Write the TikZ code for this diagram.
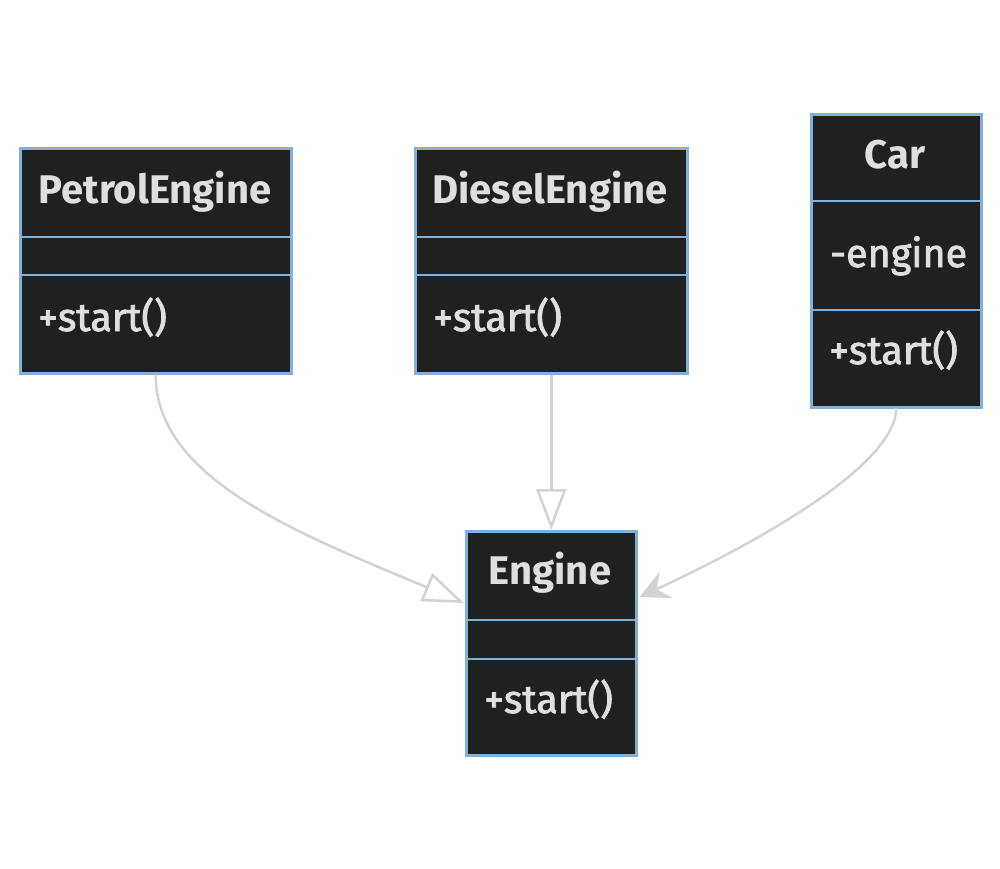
\documentclass[tikz,border=0pt]{standalone}
\usepackage{fontspec}
\setmainfont{Fira Sans}
\newfontfamily\memberfont{Fira Sans}[FakeBold=2]
\usetikzlibrary{arrows.meta,calc}
\definecolor{boxfill}{HTML}{1F2020}
\definecolor{boxborder}{HTML}{81B1DB}
\definecolor{txt}{HTML}{E0DFDF}
\definecolor{edge}{HTML}{D3D3D3}
\tikzset{
  umlbox/.style={draw=boxborder, fill=boxfill, line width=2.5pt, rectangle, inner sep=0pt, anchor=north west},
  sect/.style={draw=boxborder, line width=2.5pt},
  title/.style={text=txt, font=\fontsize{40}{46}\selectfont\bfseries, anchor=base, inner sep=0pt},
  member/.style={text=txt, font=\memberfont\fontsize{39.5}{46}\selectfont, anchor=base west, inner sep=0pt},
  conn/.style={draw=edge, line width=2.5pt},
  inherit/.style={conn, -{Triangle[open, length=41pt, width=30pt, line width=2.5pt]}},
  assoc/.style={conn, -{Stealth[length=29pt, width=29pt, inset=10pt, fill=edge]}},
}
\begin{document}
\begin{tikzpicture}[x=1pt, y=-1pt]
\useasboundingbox[fill=white] (0,0) rectangle (1000,868);

% PetrolEngine
\node[umlbox, minimum width=271pt, minimum height=225pt] (petrol) at (19,147) {};
\draw[sect] (19,237) -- (290,237);
\draw[sect] (19,275) -- (290,275);
\node[title] (petrolT) at (155,203) {PetrolEngine};
\node[member] (petrolM) at (38,331) {+start()};

% DieselEngine
\node[umlbox, minimum width=272pt, minimum height=225pt] (diesel) at (414,147) {};
\draw[sect] (414,237) -- (686,237);
\draw[sect] (414,275) -- (686,275);
\node[title] (dieselT) at (550,203) {DieselEngine};
\node[member] (dieselM) at (433,331) {+start()};

% Car
\node[umlbox, minimum width=170pt, minimum height=293pt] (car) at (810,113) {};
\draw[sect] (810,201) -- (980,201);
\draw[sect] (810,310) -- (980,310);
\node[title] (carT) at (895,168) {Car};
\node[member] (carA) at (830,267) {-engine};
\node[member] (carM) at (829,364) {+start()};

% Engine
\node[umlbox, minimum width=170pt, minimum height=224pt] (engine) at (465,530) {};
\draw[sect] (465,620) -- (635,620);
\draw[sect] (465,659) -- (635,659);
\node[title] (engineT) at (550,584) {Engine};
\node[member] (engineM) at (484,713) {+start()};

% connectors
\coordinate (engL) at ($(engine.north west)+(-1,73)$);
\coordinate (engR) at ($(engine.north east)+(2,67)$);
\draw[inherit] (petrol.south) .. controls (155,480) and (303,535) .. (engL);
\draw[inherit] (diesel.south) -- (engine.north);
\draw[assoc] (car.south) .. controls (895,470) and (737,552) .. (engR);
\end{tikzpicture}
\end{document}
